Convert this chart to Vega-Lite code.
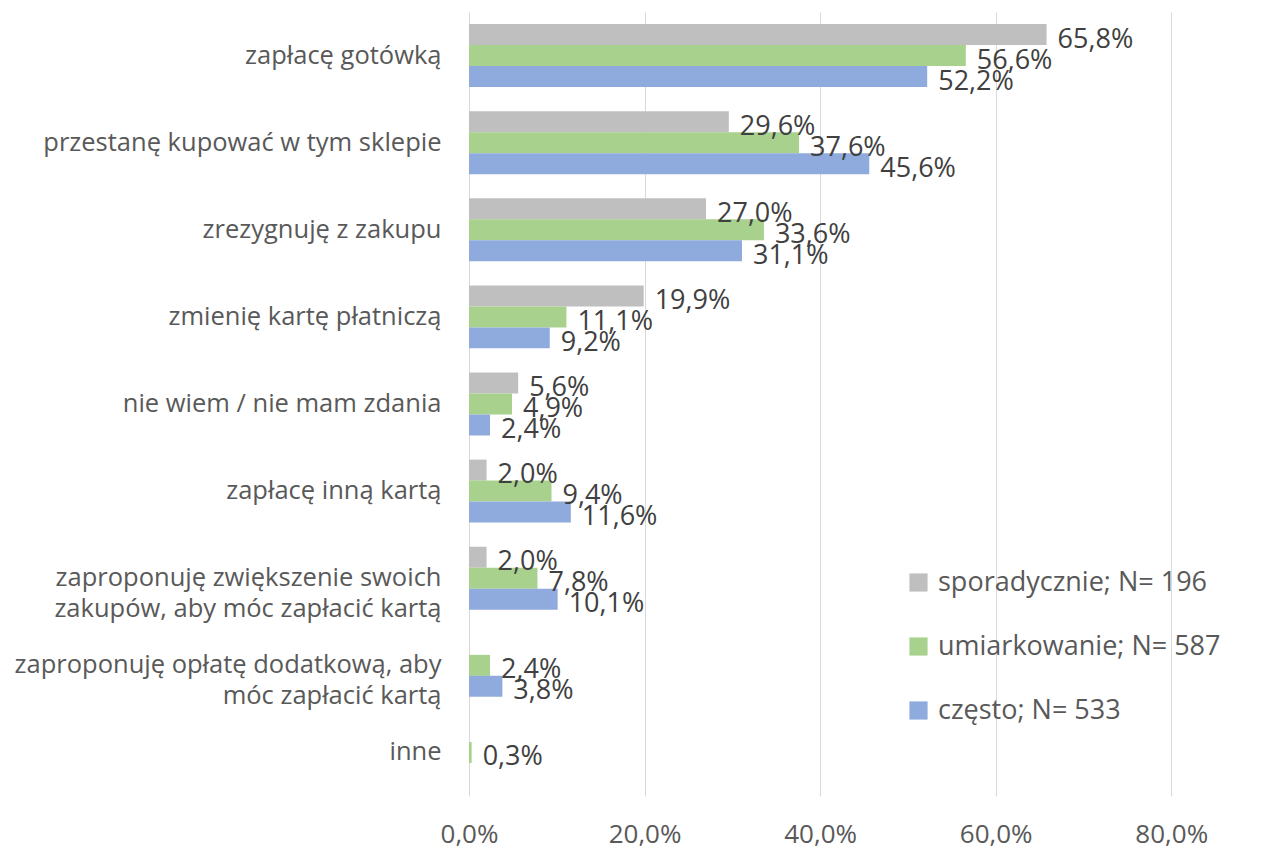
{
  "$schema": "https://vega.github.io/schema/vega-lite/v6.json",
  "width": 790,
  "height": 784,
  "autosize": {"type": "none"},
  "padding": {"left": 469, "top": 12, "right": 2, "bottom": 55},
  "background": "white",
  "config": {
    "locale": {"number": {"decimal": ",", "thousands": " ", "grouping": [3], "currency": ["", " zł"]}},
    "font": "Open Sans",
    "view": {"stroke": null}
  },
  "data": {"values": [
    {"cat": "zapłacę gotówką", "grp": "sporadycznie; N= 196", "o": 0, "v": 0.658},
    {"cat": "zapłacę gotówką", "grp": "umiarkowanie; N= 587", "o": 1, "v": 0.566},
    {"cat": "zapłacę gotówką", "grp": "często; N= 533", "o": 2, "v": 0.522},
    {"cat": "przestanę kupować w tym sklepie", "grp": "sporadycznie; N= 196", "o": 0, "v": 0.296},
    {"cat": "przestanę kupować w tym sklepie", "grp": "umiarkowanie; N= 587", "o": 1, "v": 0.376},
    {"cat": "przestanę kupować w tym sklepie", "grp": "często; N= 533", "o": 2, "v": 0.456},
    {"cat": "zrezygnuję z zakupu", "grp": "sporadycznie; N= 196", "o": 0, "v": 0.27},
    {"cat": "zrezygnuję z zakupu", "grp": "umiarkowanie; N= 587", "o": 1, "v": 0.336},
    {"cat": "zrezygnuję z zakupu", "grp": "często; N= 533", "o": 2, "v": 0.311},
    {"cat": "zmienię kartę płatniczą", "grp": "sporadycznie; N= 196", "o": 0, "v": 0.199},
    {"cat": "zmienię kartę płatniczą", "grp": "umiarkowanie; N= 587", "o": 1, "v": 0.111},
    {"cat": "zmienię kartę płatniczą", "grp": "często; N= 533", "o": 2, "v": 0.092},
    {"cat": "nie wiem / nie mam zdania", "grp": "sporadycznie; N= 196", "o": 0, "v": 0.056},
    {"cat": "nie wiem / nie mam zdania", "grp": "umiarkowanie; N= 587", "o": 1, "v": 0.049},
    {"cat": "nie wiem / nie mam zdania", "grp": "często; N= 533", "o": 2, "v": 0.024},
    {"cat": "zapłacę inną kartą", "grp": "sporadycznie; N= 196", "o": 0, "v": 0.02},
    {"cat": "zapłacę inną kartą", "grp": "umiarkowanie; N= 587", "o": 1, "v": 0.094},
    {"cat": "zapłacę inną kartą", "grp": "często; N= 533", "o": 2, "v": 0.116},
    {"cat": "zaproponuję zwiększenie swoich|zakupów, aby móc zapłacić kartą", "grp": "sporadycznie; N= 196", "o": 0, "v": 0.02},
    {"cat": "zaproponuję zwiększenie swoich|zakupów, aby móc zapłacić kartą", "grp": "umiarkowanie; N= 587", "o": 1, "v": 0.078},
    {"cat": "zaproponuję zwiększenie swoich|zakupów, aby móc zapłacić kartą", "grp": "często; N= 533", "o": 2, "v": 0.101},
    {"cat": "zaproponuję opłatę dodatkową, aby|móc zapłacić kartą", "grp": "umiarkowanie; N= 587", "o": 1, "v": 0.024},
    {"cat": "zaproponuję opłatę dodatkową, aby|móc zapłacić kartą", "grp": "często; N= 533", "o": 2, "v": 0.038},
    {"cat": "inne", "grp": "umiarkowanie; N= 587", "o": 1, "v": 0.003}
  ]},
  "encoding": {
    "y": {
      "field": "cat", "type": "nominal", "sort": null,
      "scale": {"paddingInner": 0.277, "paddingOuter": 0.138},
      "axis": {"title": null, "domain": false, "ticks": false, "labelFontSize": 25.5, "labelColor": "#595959", "labelPadding": 28, "labelLineHeight": 31, "labelExpr": "split(datum.label, '|')", "labelLimit": 0}
    },
    "yOffset": {"field": "o", "type": "ordinal", "scale": {"domain": [0, 1, 2], "paddingInner": 0, "paddingOuter": 0}},
    "x": {
      "field": "v", "type": "quantitative",
      "scale": {"domain": [0, 0.9], "nice": false},
      "axis": {"title": null, "format": ".1%", "values": [0, 0.2, 0.4, 0.6, 0.8], "domain": false, "ticks": false, "labelFlush": false, "labelFontSize": 26, "labelColor": "#595959", "labelPadding": 25, "gridColor": "#D9D9D9", "gridWidth": 1}
    }
  },
  "layer": [
    {
      "mark": {"type": "bar"},
      "encoding": {
        "color": {
          "field": "grp", "type": "nominal",
          "scale": {"domain": ["sporadycznie; N= 196", "umiarkowanie; N= 587", "często; N= 533"], "range": ["#BFBFBF", "#A9D18E", "#8FAADC"]},
          "legend": {"title": null, "orient": "none", "legendX": 436, "legendY": 557, "symbolType": "square", "symbolSize": 330, "symbolStrokeWidth": 0, "labelFontSize": 27, "labelColor": "#595959", "rowPadding": 36, "labelOffset": 6, "labelLimit": 0}
        }
      }
    },
    {
      "mark": {"type": "text", "align": "left", "baseline": "middle", "dx": 11, "dy": 5, "fontSize": 27, "color": "#404040"},
      "encoding": {"text": {"field": "v", "type": "quantitative", "format": ".1%"}}
    }
  ]
}
